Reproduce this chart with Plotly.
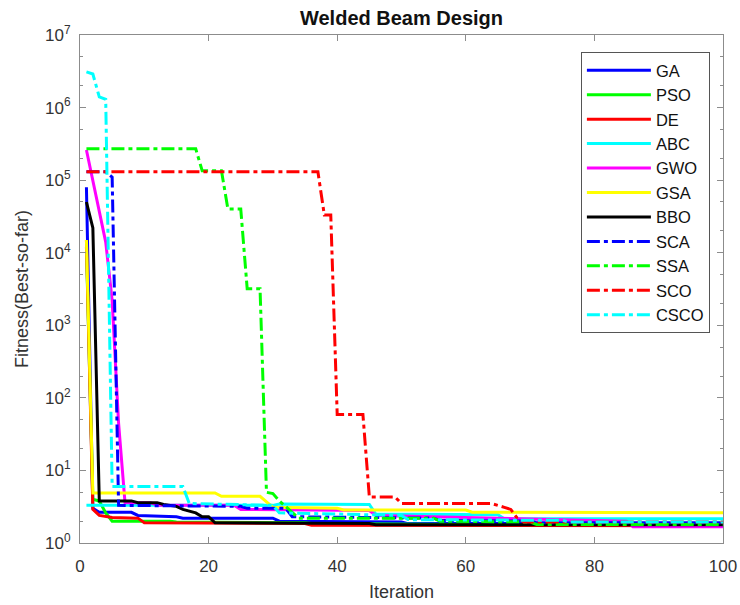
import plotly.graph_objects as go

# ---- data (iteration, best-so-far fitness) ----
GA_x = [1, 2, 3, 8, 9, 15, 16, 30, 31, 50, 51, 100]
GA_y = [8e4, 3.0, 2.65, 2.65, 2.4, 2.3, 2.2, 2.2, 2.0, 1.95, 1.85, 1.85]

PSO_x = [1, 2, 3, 4, 5, 14, 15, 35, 36, 60, 61, 100]
PSO_y = [1.2e4, 4.0, 3.8, 2.6, 2.0, 2.0, 1.95, 1.9, 1.85, 1.8, 1.75, 1.75]

DE_x = [1, 2, 3, 5, 9, 10, 35, 36, 100]
DE_y = [1.5e4, 2.9, 2.4, 2.25, 2.2, 1.9, 1.85, 1.75, 1.73]

ABC_x = [1, 30, 31, 45, 46, 65, 66, 100]
ABC_y = [3.3, 3.3, 3.45, 3.4, 2.5, 2.45, 2.15, 2.15]

GWO_x = [1, 2, 3, 4, 5, 6, 7, 11, 12, 24, 25, 45, 46, 85, 86, 100]
GWO_y = [2.6e5, 1.0e5, 4e4, 1.4e4, 2.2e3, 45, 3.6, 3.6, 3.3, 3.3, 2.9, 2.8, 2.4, 2.0, 1.68, 1.68]

GSA_x = [1, 2, 21, 22, 28, 30, 40, 41, 60, 61, 100]
GSA_y = [1.5e4, 4.9, 4.9, 4.4, 4.4, 3.1, 3.0, 2.85, 2.85, 2.65, 2.62]

BBO_x = [1, 2, 3, 8, 9, 12, 13, 15, 16, 18, 19, 20, 21, 45, 46, 100]
BBO_y = [5e4, 2.2e4, 3.8, 3.8, 3.6, 3.6, 3.4, 3.2, 2.9, 2.6, 2.3, 2.3, 1.9, 1.85, 1.78, 1.78]

SCA_x = [1, 4, 5, 6, 25, 26, 32, 33, 55, 56, 70, 71, 100]
SCA_y = [1.3e5, 1.3e5, 1.1e5, 3.3, 3.2, 3.0, 3.0, 2.3, 2.2, 2.05, 2.0, 1.9, 1.9]

SSA_x = [1, 18, 19, 22, 23, 25, 26, 28, 29, 30, 31, 33, 34, 55, 56, 70, 71, 100]
SSA_y = [2.7e5, 2.7e5, 1.35e5, 1.35e5, 4e4, 4e4, 3.2e3, 3.2e3, 5.0, 4.8, 3.8, 2.6, 2.2, 2.2, 2.0, 1.95, 1.8, 1.8]

SCO_x = [1, 37, 38, 39, 40, 44, 45, 49, 50, 64, 66, 67, 68, 69, 100]
SCO_y = [1.3e5, 1.3e5, 3.3e4, 3.3e4, 59, 59, 4.3, 4.3, 3.5, 3.5, 3.1, 2.9, 2.2, 1.95, 1.95]

CSCO_x = [1, 2, 3, 4, 5, 16, 17, 30, 31, 50, 51, 75, 76, 100]
CSCO_y = [3.1e6, 2.9e6, 1.4e6, 1.3e6, 6.0, 6.0, 3.5, 3.3, 2.6, 2.4, 2.1, 2.05, 1.95, 1.95]

names = ["GA", "PSO", "DE", "ABC", "GWO", "GSA", "BBO", "SCA", "SSA", "SCO", "CSCO"]
xs = [GA_x, PSO_x, DE_x, ABC_x, GWO_x, GSA_x, BBO_x, SCA_x, SSA_x, SCO_x, CSCO_x]
ys = [GA_y, PSO_y, DE_y, ABC_y, GWO_y, GSA_y, BBO_y, SCA_y, SSA_y, SCO_y, CSCO_y]
colors = ["#0000FF", "#00FF00", "#FF0000", "#00FFFF", "#FF00FF", "#FFFF00", "#000000",
          "#0000FF", "#00FF00", "#FF0000", "#00FFFF"]
dashes = ["solid"] * 7 + ["13px,4px,4px,4px"] * 4

y_tickvals = [1, 10, 100, 1e3, 1e4, 1e5, 1e6, 1e7]
y_ticktext = ["10<sup>%d</sup>" % i for i in range(8)]
x_tickvals = [0, 20, 40, 60, 80, 100]

FONT = "Liberation Sans, Arial, sans-serif"
AX = "#8c8c8c"
TXT = "#333333"

fig = go.Figure()
for n, x, y, c, d in zip(names, xs, ys, colors, dashes):
    fig.add_trace(go.Scatter(x=x, y=y, name=n, mode="lines",
                             line=dict(color=c, width=3, dash=d)))

fig.update_layout(
    width=740, height=605,
    margin=dict(l=80, r=17, t=35, b=62, autoexpand=False),
    paper_bgcolor="white", plot_bgcolor="white",
    font=dict(family=FONT, size=17, color=TXT),
    title=dict(text="<b>Welded Beam Design</b>", xref="paper", x=0.5, xanchor="center",
               y=0.97, yanchor="middle", font=dict(size=20, color="#111111")),
    showlegend=True,
    legend=dict(x=0.779, y=0.9665, xanchor="left", yanchor="top",
                bgcolor="white", bordercolor="#555555", borderwidth=1,
                font=dict(size=16.5, color="#111111"), itemwidth=64,
                tracegroupgap=0),
    annotations=[dict(text="Fitness(Best-so-far)", xref="paper", yref="paper",
                      x=-0.0902, y=0.5, xanchor="center", yanchor="middle",
                      textangle=-90, showarrow=False,
                      font=dict(size=18, color=TXT))],
)
fig.update_xaxes(range=[0, 100], tickvals=x_tickvals, ticks="inside", ticklen=6,
                 showline=True, linecolor=AX, linewidth=1, mirror="ticks",
                 tickcolor=AX, showgrid=False, zeroline=False, ticklabelstandoff=8,
                 automargin=False,
                 tickfont=dict(size=17, color=TXT),
                 title=dict(text="Iteration", font=dict(size=18, color=TXT), standoff=9))
fig.update_yaxes(type="log", range=[0, 7], tickvals=y_tickvals, ticktext=y_ticktext,
                 ticks="inside", ticklen=6, showline=True, linecolor=AX, linewidth=1,
                 mirror="ticks", tickcolor=AX, showgrid=False, zeroline=False,
                 ticklabelstandoff=5, automargin=False,
                 minor=dict(ticks="inside", ticklen=3, tickcolor=AX, showgrid=False),
                 tickfont=dict(size=17, color=TXT))

fig.write_html("out.html")
